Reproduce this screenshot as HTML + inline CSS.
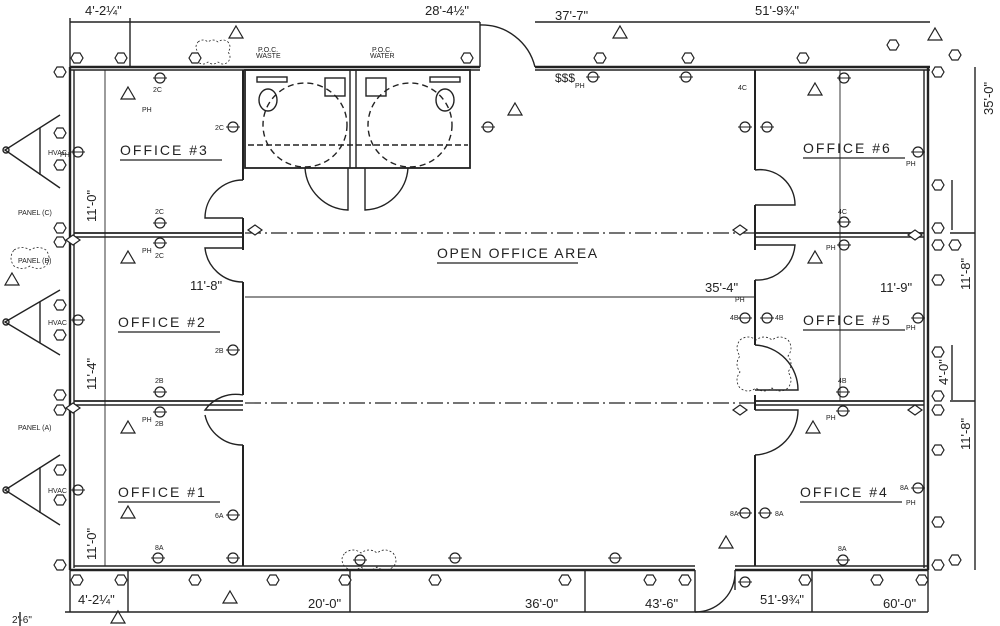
<!DOCTYPE html>
<html><head><meta charset="utf-8"><style>
html,body{margin:0;padding:0;background:#fff;width:1000px;height:626px;overflow:hidden}
svg{display:block}
text{font-family:"Liberation Sans",sans-serif;fill:#222}
</style></head><body>
<svg width="1000" height="626" viewBox="0 0 1000 626" xmlns="http://www.w3.org/2000/svg">
<defs>
<g id="hx"><polygon points="-6,0 -3,-5 3,-5 6,0 3,5 -3,5" fill="#fff" stroke="#222" stroke-width="1.2"/></g>
<g id="dn"><polygon points="-7,0 0,-5 7,0 0,5" fill="#fff" stroke="#222" stroke-width="1.2"/></g>
<g id="tr"><polygon points="0,-7 7,5 -7,5" fill="none" stroke="#222" stroke-width="1.2"/></g>
<g id="rc"><circle r="5" fill="none" stroke="#222" stroke-width="1.2"/><line x1="-7" y1="0" x2="7" y2="0" stroke="#222"/></g>
</defs>
<g stroke="#222" fill="none" stroke-width="1.4">
<line x1="70" y1="22" x2="480" y2="22"/>
<line x1="535" y1="22" x2="930" y2="22"/>
<line x1="70" y1="18" x2="70" y2="67"/>
<line x1="130" y1="18" x2="130" y2="67"/>
<line x1="480" y1="22" x2="480" y2="67"/>
<line x1="70" y1="67" x2="480" y2="67" stroke-width="2.4"/>
<line x1="70" y1="70" x2="480" y2="70"/>
<line x1="535" y1="67" x2="930" y2="67" stroke-width="2.4"/>
<line x1="535" y1="70" x2="930" y2="70"/>
<path d="M480 25 A55 55 0 0 1 535 67"/>
<line x1="70" y1="67" x2="70" y2="570" stroke-width="2.4"/>
<line x1="74" y1="70" x2="74" y2="568"/>
<line x1="928" y1="67" x2="928" y2="570" stroke-width="2.4"/>
<line x1="924" y1="70" x2="924" y2="568"/>
<line x1="70" y1="570" x2="695" y2="570" stroke-width="2.4"/>
<line x1="74" y1="566" x2="695" y2="566"/>
<line x1="735" y1="570" x2="928" y2="570" stroke-width="2.4"/>
<line x1="735" y1="566" x2="928" y2="566"/>
<path d="M695 570 L695 612 M735 570 L735 590 M695 612 A40 40 0 0 0 735 575"/>
<line x1="65" y1="612" x2="928" y2="612"/>
<line x1="70" y1="570" x2="70" y2="612"/>
<line x1="128" y1="570" x2="128" y2="612"/>
<line x1="350" y1="570" x2="350" y2="612"/>
<line x1="585" y1="570" x2="585" y2="612"/>
<line x1="812" y1="570" x2="812" y2="612"/>
<line x1="928" y1="570" x2="928" y2="612"/>
<line x1="20" y1="612" x2="20" y2="626"/>
<line x1="975" y1="67" x2="975" y2="570"/>
<line x1="950" y1="233" x2="975" y2="233"/>
<line x1="950" y1="401" x2="975" y2="401"/>
<line x1="952" y1="345" x2="952" y2="400"/>
<line x1="952" y1="180" x2="952" y2="230"/>
<line x1="243" y1="70" x2="243" y2="180" stroke-width="2"/>
<line x1="243" y1="218" x2="243" y2="250" stroke-width="2"/>
<line x1="243" y1="282" x2="243" y2="395" stroke-width="2"/>
<line x1="243" y1="445" x2="243" y2="566" stroke-width="2"/>
<line x1="74" y1="233" x2="243" y2="233" stroke-width="1.8"/>
<line x1="74" y1="237" x2="243" y2="237"/>
<line x1="74" y1="401" x2="243" y2="401" stroke-width="1.8"/>
<line x1="74" y1="405" x2="243" y2="405"/>
<line x1="105" y1="70" x2="105" y2="566" stroke-width="0.9"/>
<path d="M243 180 A38 38 0 0 0 205 218 L243 218"/>
<path d="M243 282 A38 38 0 0 1 205 248 L243 248"/>
<path d="M243 395 A38 38 0 0 0 205 410 L243 410"/>
<path d="M243 445 A38 38 0 0 1 205 415"/>
<line x1="755" y1="70" x2="755" y2="170" stroke-width="2"/>
<line x1="755" y1="205" x2="755" y2="250" stroke-width="2"/>
<line x1="755" y1="280" x2="755" y2="345" stroke-width="2"/>
<line x1="755" y1="395" x2="755" y2="410" stroke-width="2"/>
<line x1="755" y1="455" x2="755" y2="566" stroke-width="2"/>
<line x1="755" y1="233" x2="924" y2="233" stroke-width="1.8"/>
<line x1="755" y1="237" x2="924" y2="237"/>
<line x1="755" y1="401" x2="924" y2="401" stroke-width="1.8"/>
<line x1="755" y1="405" x2="924" y2="405"/>
<line x1="840" y1="70" x2="840" y2="401" stroke-width="0.9"/>
<path d="M755 170 A35 35 0 0 1 795 205 L755 205"/>
<path d="M755 280 A38 38 0 0 0 795 245 L755 245"/>
<path d="M755 345 A45 45 0 0 1 798 390 L755 390"/>
<path d="M755 455 A45 45 0 0 0 798 410 L755 410"/>
<line x1="245" y1="233" x2="755" y2="233" stroke-dasharray="16,4,2,4" stroke-width="1.2"/>
<line x1="245" y1="403" x2="755" y2="403" stroke-dasharray="16,4,2,4" stroke-width="1.2"/>
<line x1="245" y1="297" x2="755" y2="297" stroke-width="0.9"/>
<rect x="245" y="70" width="225" height="98" stroke-width="1.8"/>
<line x1="350" y1="70" x2="350" y2="168"/>
<line x1="356" y1="70" x2="356" y2="168"/>
<line x1="248" y1="145" x2="468" y2="145" stroke-dasharray="6,3"/>
<circle cx="305" cy="125" r="42" stroke-dasharray="6,4"/>
<circle cx="410" cy="125" r="42" stroke-dasharray="6,4"/>
<path d="M305 168 A45 45 0 0 0 348 210 L348 168"/>
<path d="M408 168 A45 45 0 0 1 365 210 L365 168"/>
<ellipse cx="268" cy="100" rx="9" ry="11"/>
<ellipse cx="445" cy="100" rx="9" ry="11"/>
<rect x="257" y="77" width="30" height="5"/>
<rect x="430" y="77" width="30" height="5"/>
<rect x="325" y="78" width="20" height="18"/>
<rect x="366" y="78" width="20" height="18"/>
<path d="M60 115 L5 150 L60 188"/><line x1="40" y1="128" x2="40" y2="175"/><circle cx="6" cy="150" r="3"/>
<path d="M60 290 L5 322 L60 355"/><line x1="40" y1="302" x2="40" y2="343"/><circle cx="6" cy="322" r="3"/>
<path d="M60 455 L5 490 L60 525"/><line x1="40" y1="467" x2="40" y2="513"/><circle cx="6" cy="490" r="3"/>
<path d="M198 42 q5-4 10 0 q5-4 10 0 q5-4 10 0 q4 5 0 10 q4 5 0 10 q-5 4-10 0 q-5 4-10 0 q-5 4-10 0 q-4-5 0-10 q-4-5 0-10z" stroke-dasharray="2,2" stroke-width="0.8"/>
<path d="M740 340 q8-6 16 0 q8-6 16 0 q8-6 16 0 q6 8 0 16 q6 8 0 16 q6 8 0 16 q-8 6-16 0 q-8 6-16 0 q-8 6-16 0 q-6-8 0-16 q-6-8 0-16 q-6-8 0-16z" stroke-dasharray="2,2" stroke-width="0.8"/>
<path d="M345 553 q8-6 16 0 q8-6 16 0 q8-6 16 0 q6 8 0 14 q-8 6-16 0 q-8 6-16 0 q-8 6-16 0 q-6-8 0-14z" stroke-dasharray="2,2" stroke-width="0.8"/>
<path d="M14 250 q8-5 16 0 q8-5 16 0 q6 8 0 16 q-8 5-16 0 q-8 5-16 0 q-6-8 0-16z" stroke-dasharray="2,2" stroke-width="0.8"/>
</g>
<g>
<use href="#hx" x="77" y="58"/><use href="#hx" x="121" y="58"/><use href="#hx" x="195" y="58"/><use href="#hx" x="467" y="58"/>
<use href="#hx" x="600" y="58"/><use href="#hx" x="688" y="58"/><use href="#hx" x="803" y="58"/><use href="#hx" x="893" y="45"/>
<use href="#hx" x="60" y="72"/><use href="#hx" x="60" y="133"/><use href="#hx" x="60" y="165"/><use href="#hx" x="60" y="228"/><use href="#hx" x="60" y="242"/>
<use href="#hx" x="60" y="305"/><use href="#hx" x="60" y="335"/><use href="#hx" x="60" y="395"/><use href="#hx" x="60" y="410"/><use href="#hx" x="60" y="470"/><use href="#hx" x="60" y="500"/>
<use href="#hx" x="60" y="565"/>
<use href="#hx" x="938" y="72"/><use href="#hx" x="938" y="185"/><use href="#hx" x="938" y="228"/><use href="#hx" x="938" y="245"/><use href="#hx" x="938" y="280"/>
<use href="#hx" x="938" y="352"/><use href="#hx" x="938" y="396"/><use href="#hx" x="938" y="410"/><use href="#hx" x="938" y="450"/><use href="#hx" x="938" y="522"/><use href="#hx" x="938" y="565"/>
<use href="#hx" x="955" y="55"/><use href="#hx" x="955" y="245"/><use href="#hx" x="955" y="560"/>
<use href="#hx" x="77" y="580"/><use href="#hx" x="121" y="580"/><use href="#hx" x="195" y="580"/><use href="#hx" x="273" y="580"/><use href="#hx" x="345" y="580"/>
<use href="#hx" x="435" y="580"/><use href="#hx" x="565" y="580"/><use href="#hx" x="650" y="580"/><use href="#hx" x="685" y="580"/>
<use href="#hx" x="805" y="580"/><use href="#hx" x="877" y="580"/><use href="#hx" x="922" y="580"/>
<use href="#dn" x="73" y="240"/><use href="#dn" x="255" y="230"/><use href="#dn" x="740" y="230"/><use href="#dn" x="915" y="235"/>
<use href="#dn" x="740" y="410"/><use href="#dn" x="915" y="410"/><use href="#dn" x="73" y="408"/>
<use href="#tr" x="236" y="33"/><use href="#tr" x="620" y="33"/><use href="#tr" x="128" y="94"/><use href="#tr" x="128" y="258"/><use href="#tr" x="128" y="428"/>
<use href="#tr" x="128" y="513"/><use href="#tr" x="230" y="598"/><use href="#tr" x="815" y="90"/><use href="#tr" x="815" y="258"/><use href="#tr" x="813" y="428"/><use href="#tr" x="726" y="543"/><use href="#tr" x="515" y="110"/>
<use href="#tr" x="935" y="35"/><use href="#tr" x="12" y="280"/><use href="#tr" x="118" y="618"/>
<use href="#rc" x="160" y="78"/><use href="#rc" x="233" y="127"/><use href="#rc" x="488" y="127"/><use href="#rc" x="78" y="152"/><use href="#rc" x="160" y="223"/><use href="#rc" x="160" y="243"/>
<use href="#rc" x="78" y="320"/><use href="#rc" x="233" y="350"/><use href="#rc" x="160" y="392"/><use href="#rc" x="160" y="412"/><use href="#rc" x="78" y="490"/><use href="#rc" x="233" y="515"/>
<use href="#rc" x="158" y="558"/><use href="#rc" x="233" y="558"/><use href="#rc" x="455" y="558"/><use href="#rc" x="615" y="558"/><use href="#rc" x="360" y="560"/>
<use href="#rc" x="593" y="77"/><use href="#rc" x="686" y="77"/><use href="#rc" x="844" y="78"/><use href="#rc" x="745" y="127"/><use href="#rc" x="767" y="127"/><use href="#rc" x="918" y="152"/>
<use href="#rc" x="844" y="222"/><use href="#rc" x="844" y="245"/><use href="#rc" x="745" y="318"/><use href="#rc" x="767" y="318"/><use href="#rc" x="918" y="318"/>
<use href="#rc" x="843" y="392"/><use href="#rc" x="843" y="411"/><use href="#rc" x="745" y="513"/><use href="#rc" x="765" y="513"/><use href="#rc" x="918" y="488"/><use href="#rc" x="843" y="560"/><use href="#rc" x="745" y="582"/>
</g>
<g font-size="14" letter-spacing="2">
<text x="120" y="155">OFFICE #3</text><text x="118" y="327">OFFICE #2</text><text x="118" y="497">OFFICE #1</text>
<text x="803" y="153">OFFICE #6</text><text x="803" y="325">OFFICE #5</text><text x="800" y="497">OFFICE #4</text>
<text x="437" y="258" letter-spacing="1.6">OPEN OFFICE AREA</text>
</g>
<g stroke="#222" stroke-width="1.2">
<line x1="120" y1="160" x2="222" y2="160"/><line x1="118" y1="332" x2="220" y2="332"/><line x1="118" y1="502" x2="220" y2="502"/>
<line x1="803" y1="158" x2="905" y2="158"/><line x1="803" y1="330" x2="905" y2="330"/><line x1="800" y1="502" x2="902" y2="502"/>
<line x1="437" y1="263" x2="578" y2="263"/>
</g>
<g font-size="13">
<text x="85" y="15">4'-2¼"</text><text x="425" y="15">28'-4½"</text><text x="555" y="20">37'-7"</text><text x="755" y="15">51'-9¾"</text>
<text x="78" y="604">4'-2¼"</text><text x="12" y="623" font-size="10">2'-6"</text><text x="308" y="608">20'-0"</text><text x="525" y="608">36'-0"</text>
<text x="645" y="608">43'-6"</text><text x="760" y="604">51'-9¾"</text><text x="883" y="608">60'-0"</text>
<text x="190" y="290">11'-8"</text><text x="705" y="292">35'-4"</text><text x="880" y="292">11'-9"</text>
<text transform="translate(96,222) rotate(-90)">11'-0"</text><text transform="translate(96,390) rotate(-90)">11'-4"</text><text transform="translate(96,560) rotate(-90)">11'-0"</text>
<text transform="translate(993,115) rotate(-90)">35'-0"</text><text transform="translate(970,290) rotate(-90)">11'-8"</text><text transform="translate(970,450) rotate(-90)">11'-8"</text>
<text transform="translate(948,385) rotate(-90)">4'-0"</text>
</g>
<g font-size="7">
<text x="258" y="52">P.O.C.</text><text x="256" y="58">WASTE</text><text x="372" y="52">P.O.C.</text><text x="370" y="58">WATER</text>
<text x="18" y="215">PANEL (C)</text><text x="18" y="263">PANEL (B)</text><text x="18" y="430">PANEL (A)</text>
<text x="48" y="155">HVAC</text><text x="48" y="325">HVAC</text><text x="48" y="493">HVAC</text>
<text x="142" y="112">PH</text><text x="142" y="253">PH</text><text x="142" y="422">PH</text><text x="575" y="88">PH</text><text x="826" y="250">PH</text><text x="826" y="420">PH</text>
<text x="735" y="302">PH</text><text x="906" y="166">PH</text><text x="906" y="330">PH</text><text x="906" y="505">PH</text><text x="60" y="157">PH</text>
<text x="153" y="92">2C</text><text x="215" y="130">2C</text><text x="155" y="214">2C</text><text x="155" y="258">2C</text>
<text x="215" y="353">2B</text><text x="155" y="383">2B</text><text x="155" y="426">2B</text><text x="215" y="518">6A</text><text x="155" y="550">8A</text>
<text x="738" y="90">4C</text><text x="838" y="214">4C</text><text x="730" y="320">4B</text><text x="775" y="320">4B</text><text x="838" y="383">4B</text>
<text x="730" y="516">8A</text><text x="775" y="516">8A</text><text x="838" y="551">8A</text><text x="900" y="490">8A</text>
<text x="555" y="82" font-size="12">$$$</text>
</g>
</svg>
</body></html>
